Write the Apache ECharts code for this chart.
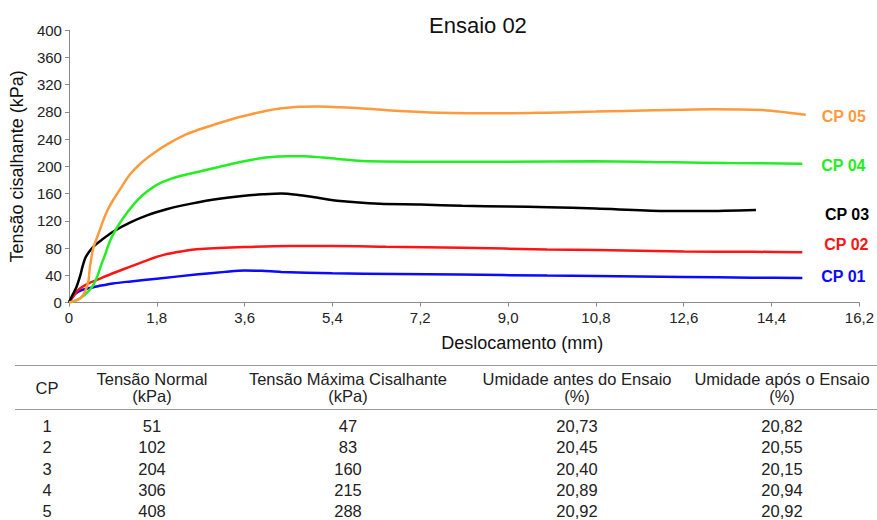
<!DOCTYPE html>
<html>
<head>
<meta charset="utf-8">
<script src="https://cdn.jsdelivr.net/npm/echarts@6/dist/echarts.min.js"></script>
<style>
  html, body { margin: 0; padding: 0; background: #fff; }
  #wrap { position: relative; width: 877px; height: 520px; overflow: hidden; font-family: "Liberation Sans", Arial, sans-serif; color: #222; }
  #chart { position: absolute; left: 0; top: 0; width: 877px; height: 520px; }
  .rule { position: absolute; left: 15px; right: 0; height: 0; border-top: 1.5px solid #9a9a9a; }
  .cell { position: absolute; transform: translate(-50%, -50%); font-size: 16.5px; line-height: 17px; text-align: center; white-space: nowrap; }
</style>
</head>
<body>
<div id="wrap">
  <div id="chart"></div>
  <div id="table"></div>
</div>
<script>
// Shear stress (kPa) versus horizontal displacement (mm), one curve per specimen.
var cp01 = [[0,0],[0.06,7],[0.13,13],[0.25,18],[0.4,21],[0.6,24],[0.9,28],[1.27,31],[1.8,35],[2.6,41],[3.2,45],[3.6,47],[3.95,46.5],[4.35,45],[5.4,43],[6.7,42],[8.0,41],[9.8,39.5],[10.8,39],[12.6,37.5],[14.0,36.5],[15.03,36]];
var cp02 = [[0,0],[0.1,10],[0.2,19],[0.4,28],[0.6,34],[0.9,43],[1.27,53],[1.6,62],[1.94,70],[2.3,75],[2.7,78.5],[3.6,81.5],[4.5,83],[5.4,83],[6.5,82],[8.06,80.5],[9.8,78],[10.8,77],[12.6,75],[14.0,74.5],[15.03,74]];
var cp03 = [[0,0],[0.06,9],[0.15,22],[0.23,39],[0.28,53],[0.34,66],[0.43,76],[0.53,84],[0.67,92],[0.93,105],[1.27,118],[1.6,128],[2.0,137],[2.28,142],[2.94,151],[3.6,157],[4.0,159],[4.35,160],[4.7,158],[5.0,155],[5.56,149],[6.37,145],[7.2,144],[8.06,142],[9.0,141],[9.82,140],[10.8,138],[12.19,134.5],[13.0,134.5],[14.08,136]];
var cp04 = [[0,0],[0.15,3],[0.3,10],[0.42,18],[0.5,26],[0.58,38],[0.66,55],[0.75,72],[0.85,92],[1.0,112],[1.15,128],[1.4,150],[1.6,163],[1.8,173],[2.1,182],[2.4,188],[2.7,193],[3.0,198],[3.35,204],[3.7,209],[4.03,213],[4.5,215],[4.8,215],[5.2,213],[5.5,211],[6.0,208],[7.4,207],[9.0,207],[10.75,207.5],[12.4,206],[13.5,205],[15.03,204]];
var cp05 = [[0,0],[0.15,3],[0.26,8],[0.34,18],[0.4,32],[0.43,52],[0.5,80],[0.6,100],[0.7,120],[0.8,137],[0.91,151],[1.08,170],[1.25,188],[1.48,205],[1.75,220],[2.03,233],[2.4,247],[2.7,255],[3.0,262],[3.37,270],[3.7,276],[4.0,281],[4.33,285],[4.7,287.5],[5.1,288],[5.5,287],[5.96,285.5],[6.77,281.5],[7.58,279],[8.8,278],[9.8,279],[10.8,280.5],[12.0,282.5],[13.2,284],[14.2,283],[14.56,280.5],[15.1,276]];

var seriesNames = ['CP 01', 'CP 02', 'CP 03', 'CP 04', 'CP 05'];
var seriesColors = ['#0a0aff', '#ff1414', '#000000', '#22ee22', '#ff9a3c'];

var xTickLabels = ['0', '1,8', '3,6', '5,4', '7,2', '9,0', '10,8', '12,6', '14,4', '16,2'];
var yTickLabels = ['0', '40', '80', '120', '160', '200', '240', '280', '320', '360', '400'];

// Results table
var tableHeaders = [['CP'], ['Tensão Normal', '(kPa)'], ['Tensão Máxima Cisalhante', '(kPa)'], ['Umidade antes do Ensaio', '(%)'], ['Umidade após o Ensaio', '(%)']];
var cpIds = ['1', '2', '3', '4', '5'];
var tensaoNormal = ['51', '102', '204', '306', '408'];
var tensaoMaxima = ['47', '83', '160', '215', '288'];
var umidadeAntes = ['20,73', '20,45', '20,40', '20,89', '20,92'];
var umidadeApos = ['20,82', '20,55', '20,15', '20,94', '20,92'];

var FONT = '"Liberation Sans", Arial, sans-serif';

var curves = [cp01, cp02, cp03, cp04, cp05];
var endOffsets = [[11, -2], [14, -8], [61, 5], [11, 1.5], [8, 1.5]];

var chart = echarts.init(document.getElementById('chart'), null, { renderer: 'svg' });

chart.setOption({
  animation: false,
  backgroundColor: '#fff',
  textStyle: { fontFamily: FONT },
  title: {
    text: 'Ensaio 02',
    left: 424,
    top: 9,
    textStyle: { fontFamily: FONT, fontSize: 22, fontWeight: 'normal', color: '#111' }
  },
  grid: { left: 67, right: 13, top: 30.3, bottom: 217.5, containLabel: false },
  xAxis: {
    type: 'value',
    min: 0,
    max: 16.2,
    interval: 1.8,
    name: 'Deslocamento (mm)',
    nameLocation: 'middle',
    nameGap: 31,
    nameTextStyle: { fontFamily: FONT, fontSize: 18, color: '#111', padding: [0, 0, 0, 116] },
    axisLine: { show: true, lineStyle: { color: '#8a8a8a', width: 1 } },
    axisTick: { show: true, length: 4, lineStyle: { color: '#8a8a8a' } },
    splitLine: { show: false },
    axisLabel: {
      fontFamily: FONT, fontSize: 15, color: '#222', margin: 7,
      formatter: function (v) { return xTickLabels[Math.round(v / 1.8)]; }
    }
  },
  yAxis: {
    type: 'value',
    min: 0,
    max: 400,
    interval: 40,
    name: 'Tensão cisalhante (kPa)',
    nameLocation: 'middle',
    nameGap: 39,
    nameTextStyle: { fontFamily: FONT, fontSize: 18, color: '#111' },
    axisLine: { show: true, lineStyle: { color: '#8a8a8a', width: 1 } },
    axisTick: { show: true, length: 4, lineStyle: { color: '#8a8a8a' } },
    splitLine: { show: false },
    axisLabel: {
      fontFamily: FONT, fontSize: 15, color: '#222', margin: 7,
      formatter: function (v) { return yTickLabels[Math.round(v / 40)]; }
    }
  },
  series: curves.map(function (data, i) {
    return {
      name: seriesNames[i],
      type: 'line',
      data: data,
      smooth: 0.3,
      showSymbol: false,
      lineStyle: { color: seriesColors[i], width: 2.5 },
      itemStyle: { color: seriesColors[i] },
      endLabel: {
        show: true,
        formatter: seriesNames[i],
        color: seriesColors[i],
        fontFamily: FONT,
        fontSize: 16,
        fontWeight: 'bold',
        offset: endOffsets[i]
      },
      z: 2 + i
    };
  })
});

// Table beneath the chart
(function () {
  var box = document.getElementById('table');
  var colX = [47, 152, 348, 577, 782];
  var html = '';
  html += '<div class="rule" style="top:365px"></div>';
  html += '<div class="rule" style="top:409px"></div>';
  tableHeaders.forEach(function (lines, c) {
    html += '<div class="cell" style="left:' + colX[c] + 'px;top:388px">' + lines.join('<br>') + '</div>';
  });
  var cols = [cpIds, tensaoNormal, tensaoMaxima, umidadeAntes, umidadeApos];
  for (var r = 0; r < cpIds.length; r++) {
    var cy = 426 + r * 21.25;
    for (var c = 0; c < cols.length; c++) {
      html += '<div class="cell" style="left:' + colX[c] + 'px;top:' + cy + 'px">' + cols[c][r] + '</div>';
    }
  }
  box.innerHTML = html;
})();
</script>
</body>
</html>
